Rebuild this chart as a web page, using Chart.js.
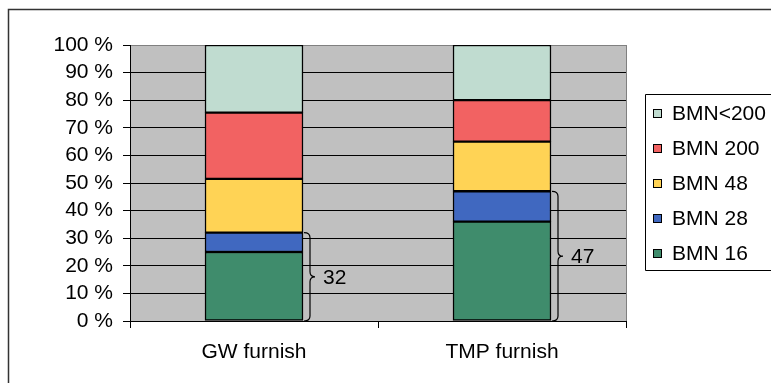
<!DOCTYPE html>
<html>
<head>
<meta charset="utf-8">
<script src="https://cdn.jsdelivr.net/npm/chart.js@4/dist/chart.umd.min.js"></script>
<style>
  html, body { margin: 0; padding: 0; background: #fff; }
  #wrap { position: relative; width: 771px; height: 383px; }
</style>
</head>
<body>
<div id="wrap"><canvas id="c" width="771" height="383"></canvas></div>
<script>
// Fibre fractions (Bauer-McNett classes), share of each furnish in %
const categories = ['GW furnish', 'TMP furnish'];
const seriesNames = ['BMN 16', 'BMN 28', 'BMN 48', 'BMN 200', 'BMN<200'];
const bmn16   = [25, 36];
const bmn28   = [7, 11];
const bmn48   = [19.5, 18];
const bmn200  = [24, 15];
const bmnFine = [24.5, 20];
const yTicks  = [0, 10, 20, 30, 40, 50, 60, 70, 80, 90, 100];

const colors = ['#3F8C6C', '#4068C0', '#FFD355', '#F26262', '#C0DCD0'];
const FONT = '"Liberation Sans", Arial, sans-serif';
const FONT_SIZE = 21;

const seriesValues = [bmn16, bmn28, bmn48, bmn200, bmnFine];

const datasets = seriesNames.map((name, i) => ({
  label: name,
  data: seriesValues[i],
  backgroundColor: colors[i],
  borderColor: '#000',
  borderWidth: 1.5,
  borderSkipped: false,
  barThickness: 98
}));

// grey plot background, outer frame, plot border
const framePlugin = {
  id: 'frame',
  beforeDraw(chart) {
    const { ctx, chartArea: a } = chart;
    ctx.save();
    ctx.fillStyle = '#C0C0C0';
    ctx.fillRect(a.left, a.top, a.right - a.left, a.bottom - a.top);
    ctx.restore();
  },
  afterDraw(chart) {
    const { ctx, chartArea: a } = chart;
    ctx.save();
    // right border of plot
    ctx.strokeStyle = '#808080';
    ctx.lineWidth = 1;
    ctx.beginPath();
    ctx.moveTo(a.right + 0.5, a.top);
    ctx.lineTo(a.right + 0.5, a.bottom);
    ctx.stroke();
    // outer chart frame
    ctx.strokeStyle = '#333';
    ctx.lineWidth = 1.5;
    ctx.beginPath();
    ctx.moveTo(8.5, 383);
    ctx.lineTo(8.5, 9.5);
    ctx.lineTo(771, 9.5);
    ctx.stroke();
    ctx.restore();
  }
};

// curly braces spanning BMN 16 + BMN 28, with the summed value
const bracePlugin = {
  id: 'braces',
  afterDatasetsDraw(chart) {
    const { ctx } = chart;
    const y = chart.scales.y;
    const meta = chart.getDatasetMeta(1);
    ctx.save();
    ctx.strokeStyle = '#000';
    ctx.lineWidth = 1.2;
    meta.data.forEach((bar, i) => {
      const total = bmn16[i] + bmn28[i];
      const right = bar.x + bar.width / 2;
      const top = y.getPixelForValue(total);
      const bottom = y.getPixelForValue(0);
      const mid = (top + bottom) / 2;
      const x0 = right + 1, xm = right + 7, tip = right + 12, r = 5;
      ctx.beginPath();
      ctx.moveTo(x0, top);
      ctx.quadraticCurveTo(xm, top, xm, top + r);
      ctx.lineTo(xm, mid - r);
      ctx.quadraticCurveTo(xm, mid, tip, mid);
      ctx.quadraticCurveTo(xm, mid, xm, mid + r);
      ctx.lineTo(xm, bottom - r);
      ctx.quadraticCurveTo(xm, bottom, x0, bottom);
      ctx.stroke();
      ctx.fillStyle = '#000';
      ctx.font = FONT_SIZE + 'px ' + FONT;
      ctx.textAlign = 'left';
      ctx.textBaseline = 'middle';
      ctx.fillText(String(total), right + 20, mid + 1);
    });
    ctx.restore();
  }
};

// boxed legend at the right, top series first
const legendPlugin = {
  id: 'boxLegend',
  afterDraw(chart) {
    const { ctx } = chart;
    const ds = chart.data.datasets.slice().reverse();
    const left = 645.5, top = 94.5, bottom = 270.5;
    ctx.save();
    ctx.strokeStyle = '#000';
    ctx.lineWidth = 1;
    ctx.beginPath();
    ctx.moveTo(771, top);
    ctx.lineTo(left, top);
    ctx.lineTo(left, bottom);
    ctx.lineTo(771, bottom);
    ctx.stroke();
    ctx.font = FONT_SIZE + 'px ' + FONT;
    ctx.textBaseline = 'middle';
    ctx.textAlign = 'left';
    ds.forEach((d, i) => {
      const cy = 113 + i * 35;
      ctx.fillStyle = d.backgroundColor;
      ctx.fillRect(653, cy - 4, 9, 9);
      ctx.strokeStyle = '#000';
      ctx.strokeRect(653.5, cy - 3.5, 8, 8);
      ctx.fillStyle = '#000';
      ctx.fillText(d.label, 672, cy + 1);
    });
    ctx.restore();
  }
};

new Chart(document.getElementById('c'), {
  type: 'bar',
  data: { labels: categories, datasets },
  plugins: [framePlugin, bracePlugin, legendPlugin],
  options: {
    responsive: false,
    animation: false,
    layout: { padding: { left: 0, top: 45, right: 145, bottom: 0 } },
    plugins: { legend: { display: false }, tooltip: { enabled: false } },
    scales: {
      x: {
        stacked: true,
        offset: true,
        grid: {
          offset: true,
          drawOnChartArea: false,
          drawTicks: true,
          tickLength: 7,
          color: '#000',
          tickColor: '#000'
        },
        border: { color: '#000', width: 1 },
        ticks: { color: '#000', font: { family: FONT, size: FONT_SIZE }, padding: 12, autoSkip: false, maxRotation: 0 },
        afterFit(s) { s.height = 62; }
      },
      y: {
        stacked: true,
        min: 0,
        max: 100,
        afterBuildTicks(s) { s.ticks = yTicks.map(v => ({ value: v })); },
        grid: {
          color: ctx => (ctx.tick && ctx.tick.value === 100 ? '#808080' : '#000'),
          tickColor: '#000',
          tickLength: 7,
          lineWidth: 1
        },
        border: { color: '#000', width: 1 },
        ticks: {
          color: '#000',
          font: { family: FONT, size: FONT_SIZE },
          padding: 10,
          autoSkip: false,
          callback: v => v + ' %'
        },
        afterFit(s) { s.width = 130; }
      }
    }
  }
});
</script>
</body>
</html>
